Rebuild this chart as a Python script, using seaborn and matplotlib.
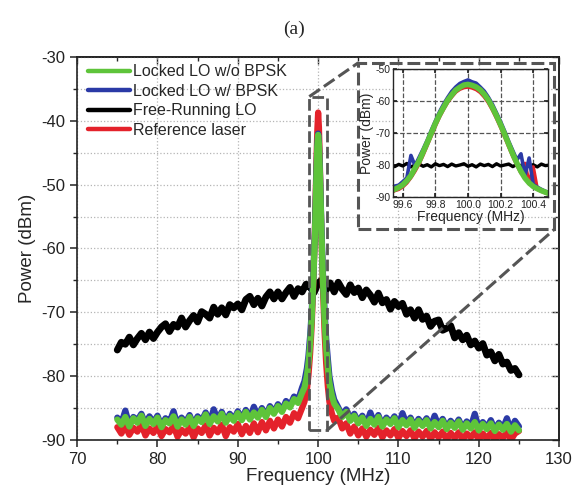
import matplotlib; matplotlib.use('Agg')
import numpy as np
import seaborn as sns
import matplotlib.pyplot as plt
from matplotlib.ticker import MultipleLocator
from matplotlib.patches import Rectangle

# ---- main spectrum: free-running LO (75-125 MHz, 0.5 MHz steps)
freq_free = [75.0, 75.5, 76.0, 76.5, 77.0, 77.5, 78.0, 78.5, 79.0, 79.5,
             80.0, 80.5, 81.0, 81.5, 82.0, 82.5, 83.0, 83.5, 84.0, 84.5,
             85.0, 85.5, 86.0, 86.5, 87.0, 87.5, 88.0, 88.5, 89.0, 89.5,
             90.0, 90.5, 91.0, 91.5, 92.0, 92.5, 93.0, 93.5, 94.0, 94.5,
             95.0, 95.5, 96.0, 96.5, 97.0, 97.5, 98.0, 98.5, 99.0, 99.5,
             100.0, 100.5, 101.0, 101.5, 102.0, 102.5, 103.0, 103.5, 104.0, 104.5,
             105.0, 105.5, 106.0, 106.5, 107.0, 107.5, 108.0, 108.5, 109.0, 109.5,
             110.0, 110.5, 111.0, 111.5, 112.0, 112.5, 113.0, 113.5, 114.0, 114.5,
             115.0, 115.5, 116.0, 116.5, 117.0, 117.5, 118.0, 118.5, 119.0, 119.5,
             120.0, 120.5, 121.0, 121.5, 122.0, 122.5, 123.0, 123.5, 124.0, 124.5,
             125.0]
free_lo = [-75.9, -74.7, -75.0, -73.9, -75.1, -74.1, -73.3, -74.3, -73.1, -74.1,
           -73.1, -72.3, -71.8, -73.0, -71.9, -72.3, -70.9, -72.3, -71.3, -70.5,
           -71.5, -69.9, -70.3, -70.9, -69.2, -70.3, -69.3, -70.4, -68.8, -69.3,
           -68.7, -69.6, -68.0, -67.5, -68.8, -67.8, -69.0, -67.6, -66.8, -67.9,
           -66.8, -67.9, -66.9, -66.1, -67.5, -66.3, -66.8, -65.6, -66.1, -66.9,
           -65.4, -64.9, -66.5, -65.4, -66.8, -65.3, -66.4, -67.2, -65.7, -66.9,
           -66.2, -67.7, -66.5, -67.3, -68.4, -67.0, -68.5, -68.0, -69.5, -68.3,
           -69.1, -68.6, -70.3, -69.6, -70.9, -69.6, -71.1, -70.6, -72.2, -71.4,
           -71.2, -72.8, -72.5, -72.1, -74.0, -73.2, -74.3, -73.6, -75.1, -74.5,
           -75.6, -74.9, -76.7, -76.2, -77.6, -76.6, -78.1, -77.8, -79.1, -78.8,
           -79.8]

# ---- main spectrum: locked LO and reference laser (denser near 100 MHz)
freq_lock = [75.0, 75.5, 76.0, 76.5, 77.0, 77.5, 78.0, 78.5, 79.0, 79.5,
             80.0, 80.5, 81.0, 81.5, 82.0, 82.5, 83.0, 83.5, 84.0, 84.5,
             85.0, 85.5, 86.0, 86.5, 87.0, 87.5, 88.0, 88.5, 89.0, 89.5,
             90.0, 90.5, 91.0, 91.5, 92.0, 92.5, 93.0, 93.5, 94.0, 94.5,
             95.0, 95.5, 96.0, 96.5, 97.0, 97.5,
             98.0, 98.3, 98.6, 98.8, 99.0, 99.2, 99.4, 99.6, 99.7, 99.8, 99.9,
             100.0, 100.1, 100.2, 100.3, 100.4, 100.6, 100.8, 101.0, 101.2, 101.4,
             101.7, 102.0,
             102.5, 103.0, 103.5, 104.0, 104.5, 105.0, 105.5, 106.0, 106.5, 107.0,
             107.5, 108.0, 108.5, 109.0, 109.5, 110.0, 110.5, 111.0, 111.5, 112.0,
             112.5, 113.0, 113.5, 114.0, 114.5, 115.0, 115.5, 116.0, 116.5, 117.0,
             117.5, 118.0, 118.5, 119.0, 119.5, 120.0, 120.5, 121.0, 121.5, 122.0,
             122.5, 123.0, 123.5, 124.0, 124.5, 125.0]
locked_no_bpsk = [-86.8, -87.6, -86.4, -87.9, -86.6, -87.3, -86.2, -87.8, -86.7, -87.5,
                  -86.5, -88.0, -86.9, -87.4, -86.3, -87.9, -86.8, -87.6, -86.4, -87.8,
                  -86.6, -87.2, -86.0, -87.5, -86.3, -87.1, -85.9, -87.3, -86.2, -87.0,
                  -85.8, -86.9, -85.6, -86.8, -85.7, -86.5, -85.3, -86.4, -85.0, -85.9,
                  -84.7, -85.6, -84.3, -84.9, -83.6, -84.2,
                  -82.6, -81.8, -80.0, -78.0, -75.0, -71.0, -65.0, -58.0, -53.0, -48.0, -44.0,
                  -42.2, -43.8, -47.5, -52.0, -57.0, -65.0, -71.0, -75.5, -78.5, -81.0,
                  -83.0, -84.3,
                  -85.2, -86.4, -85.6, -87.0, -86.2, -87.4, -86.5, -87.8, -86.7, -87.6,
                  -86.4, -87.9, -86.8, -87.5, -86.6, -88.0, -86.9, -87.7, -86.8, -88.1,
                  -87.0, -87.8, -86.9, -88.2, -87.2, -88.0, -87.0, -88.3, -87.3, -88.1,
                  -87.1, -88.4, -87.4, -88.2, -87.2, -88.5, -87.5, -88.3, -87.4, -88.6,
                  -87.6, -88.4, -87.5, -88.7, -87.7, -88.5]
locked_bpsk = [-86.5, -87.4, -85.4, -87.7, -86.4, -86.9, -85.9, -87.6, -86.3, -87.3,
               -86.2, -87.8, -86.6, -87.2, -85.5, -87.7, -86.5, -87.3, -86.1, -87.6,
               -86.3, -87.0, -85.7, -87.3, -85.2, -86.9, -85.6, -87.1, -85.9, -86.8,
               -85.5, -86.7, -85.3, -86.6, -84.8, -86.3, -85.0, -86.2, -84.7, -85.7,
               -84.4, -85.4, -83.9, -84.6, -83.2, -83.8,
               -81.8, -80.8, -78.8, -76.8, -73.8, -70.0, -64.2, -57.4, -52.6, -47.6, -43.8,
               -42.0, -43.5, -47.0, -51.4, -56.3, -64.0, -69.8, -74.2, -77.2, -80.0,
               -82.2, -83.7,
               -84.9, -86.2, -85.2, -86.8, -85.9, -87.2, -86.2, -87.6, -85.7, -87.4,
               -86.1, -87.7, -86.5, -87.3, -86.3, -87.8, -85.8, -87.5, -86.5, -87.9,
               -86.7, -87.6, -86.6, -88.0, -86.2, -87.8, -86.7, -88.1, -87.0, -87.9,
               -86.8, -88.2, -87.1, -88.0, -85.9, -88.3, -87.2, -88.1, -86.9, -88.4,
               -87.3, -88.2, -86.6, -88.5, -87.0, -87.9]
ref_laser = [-88.0, -89.0, -87.8, -89.2, -88.1, -88.7, -87.6, -89.3, -88.2, -88.9,
             -87.9, -89.4, -88.3, -88.8, -87.8, -89.5, -88.4, -89.0, -88.0, -89.6,
             -88.2, -88.9, -87.7, -89.3, -88.1, -88.8, -87.6, -89.4, -88.0, -88.7,
             -87.5, -89.1, -87.8, -88.9, -87.4, -88.8, -87.2, -88.5, -87.0, -88.2,
             -86.8, -87.9, -86.4, -87.3, -85.8, -86.6,
             -85.0, -84.0, -82.2, -79.8, -76.5, -72.0, -65.5, -57.0, -51.5, -46.0, -41.5,
             -38.7, -41.0, -46.0, -51.5, -57.5, -66.0, -73.0, -78.0, -81.5, -84.0,
             -85.8, -87.0,
             -86.5, -88.2, -87.4, -89.0, -87.9, -89.3, -88.2, -89.5, -88.4, -89.2,
             -88.1, -89.6, -88.5, -89.3, -88.3, -89.7, -88.6, -89.4, -88.5, -89.8,
             -88.7, -89.5, -88.6, -89.9, -88.8, -89.6, -88.7, -90.0, -88.9, -89.7,
             -88.8, -90.0, -89.0, -89.6, -88.8, -90.0, -89.0, -89.8, -88.9, -90.0,
             -89.1, -89.7, -88.8, -90.0, -89.0, -88.6]

# ---- inset: zoom around 100 MHz
freq_zoom = [99.500, 99.525, 99.550, 99.575, 99.600, 99.625, 99.650, 99.675, 99.700, 99.725,
             99.750, 99.775, 99.800, 99.825, 99.850, 99.875, 99.900, 99.925, 99.950, 99.975,
             100.000, 100.025, 100.050, 100.075, 100.100, 100.125, 100.150, 100.175, 100.200, 100.225,
             100.250, 100.275, 100.300, 100.325, 100.350, 100.375, 100.400, 100.425, 100.450, 100.475,
             100.500]
zoom_no_bpsk = [-88.6, -88.0, -87.6, -87.0, -86.2, -84.9, -83.3, -81.0, -78.8, -75.9,
                -73.0, -70.0, -67.0, -64.3, -62.0, -59.8, -58.1, -56.6, -55.7, -55.0,
                -54.8, -55.1, -55.6, -56.5, -57.9, -59.7, -62.0, -64.6, -67.4, -70.4,
                -73.5, -76.6, -79.4, -82.0, -84.1, -85.6, -86.7, -87.4, -88.0, -88.5,
                -89.0]
zoom_bpsk = [-87.8, -87.4, -86.6, -86.3, -85.2, -84.0, -77.0, -80.2, -77.6, -75.0,
             -72.2, -69.1, -66.2, -63.4, -61.0, -58.9, -57.0, -55.6, -54.5, -53.9,
             -53.4, -54.0, -54.4, -55.6, -56.9, -58.8, -61.0, -63.7, -66.4, -69.4,
             -72.6, -75.5, -78.4, -76.5, -83.3, -77.8, -86.0, -86.9, -87.6, -88.2,
             -88.7]
zoom_free = [-80.2, -79.6, -80.5, -79.8, -80.3, -79.5, -80.6, -80.0, -79.7, -80.4,
             -79.9, -80.6, -79.6, -80.2, -79.8, -80.5, -79.7, -80.3, -80.0, -79.6,
             -80.4, -79.9, -80.6, -79.7, -80.2, -79.8, -80.5, -79.6, -80.3, -80.0,
             -79.7, -80.5, -79.8, -80.2, -79.6, -80.4, -79.9, -80.6, -79.7, -80.2,
             -80.0]
zoom_ref = [-88.9, -88.7, -88.0, -87.6, -86.8, -85.6, -83.9, -81.9, -79.6, -76.8,
            -73.8, -70.8, -67.8, -65.0, -62.6, -60.4, -58.7, -57.2, -56.3, -55.8,
            -55.6, -55.9, -56.4, -57.3, -58.7, -60.5, -62.8, -65.4, -68.2, -71.2,
            -74.3, -77.3, -80.0, -82.5, -79.5, -85.9, -80.6, -87.6, -88.2, -88.7,
            -89.1]

labels = ['Locked LO w/o BPSK', 'Locked LO w/ BPSK', 'Free-Running LO', 'Reference laser']
GREEN, BLUE, BLACK, RED = '#5ec43a', '#2b3aa6', '#000000', '#e4222b'
FRAME = '#555555'

sns.set_theme(style='ticks')
plt.rcParams['font.family'] = ['Liberation Sans', 'DejaVu Sans']
plt.rcParams['axes.unicode_minus'] = False

fig = plt.figure(figsize=(5.8, 4.96), dpi=100)
ax = fig.add_axes([0.133, 0.113, 0.831, 0.772])

h_free = sns.lineplot(x=freq_free, y=free_lo, ax=ax, color=BLACK, lw=5.0,
                      sort=False, estimator=None).lines[-1]
h_ref = sns.lineplot(x=freq_lock, y=ref_laser, ax=ax, color=RED, lw=4.5,
                     sort=False, estimator=None).lines[-1]
h_bpsk = sns.lineplot(x=freq_lock, y=locked_bpsk, ax=ax, color=BLUE, lw=4.5,
                      sort=False, estimator=None).lines[-1]
h_nob = sns.lineplot(x=freq_lock, y=locked_no_bpsk, ax=ax, color=GREEN, lw=4.5,
                     sort=False, estimator=None).lines[-1]

ax.set_xlim(70, 130)
ax.set_ylim(-90, -30)
ax.xaxis.set_major_locator(MultipleLocator(10))
ax.xaxis.set_minor_locator(MultipleLocator(5))
ax.yaxis.set_major_locator(MultipleLocator(10))
ax.yaxis.set_minor_locator(MultipleLocator(5))
ax.grid(True, axis='x', which='major', color='#b5b5b5', ls=':', lw=0.9)
ax.grid(True, axis='y', which='both', color='#b5b5b5', ls=':', lw=0.9)
ax.tick_params(which='major', direction='out', length=5, width=1.1, labelsize=12, colors='#222222')
ax.tick_params(which='minor', direction='out', length=3, width=1.0)
for s in ax.spines.values():
    s.set_linewidth(1.2)
    s.set_color('#222222')
ax.set_xlabel('Frequency (MHz)', fontsize=13.5, labelpad=1)
ax.set_ylabel('Power (dBm)', fontsize=13.5, labelpad=4)

# inward ticks on the top and right edges
top = ax.secondary_xaxis('top')
top.xaxis.set_major_locator(MultipleLocator(10))
top.xaxis.set_minor_locator(MultipleLocator(5))
top.tick_params(which='both', direction='in', labeltop=False, width=1.0)
top.tick_params(which='major', length=5)
top.tick_params(which='minor', length=3)
right = ax.secondary_yaxis('right')
right.yaxis.set_major_locator(MultipleLocator(10))
right.yaxis.set_minor_locator(MultipleLocator(5))
right.tick_params(which='both', direction='in', labelright=False, width=1.0)
right.tick_params(which='major', length=5)
right.tick_params(which='minor', length=3)

ax.legend([h_nob, h_bpsk, h_free, h_ref], labels, loc='upper left',
          bbox_to_anchor=(0.0, 1.01), frameon=False, fontsize=11.5,
          handlelength=2.6, handletextpad=0.2, labelspacing=0.28,
          borderaxespad=0.3)
for line in ax.get_legend().get_lines():
    line.set_linewidth(3.2)

# dashed zoom markers
dash = (0, (4.2, 1.6))
box_lo = (98.9, -88.5, 101.1, -36.2)
frame = (105.0, -57.0, 129.4, -30.9)
ax.add_patch(Rectangle((box_lo[0], box_lo[1]), box_lo[2] - box_lo[0], box_lo[3] - box_lo[1],
                       fill=False, ec=FRAME, lw=2.0, ls=dash, zorder=5))
ax.add_patch(Rectangle((frame[0], frame[1]), frame[2] - frame[0], frame[3] - frame[1],
                       fill=False, ec=FRAME, lw=2.2, ls=dash, zorder=5, clip_on=False))
ax.plot([box_lo[0], frame[0]], [box_lo[3], frame[3]], color=FRAME, lw=2.2, ls=dash, zorder=5)
ax.plot([box_lo[2], frame[2]], [box_lo[1], frame[1]], color=FRAME, lw=2.2, ls=dash, zorder=5)

# inset
axin = fig.add_axes([0.6776, 0.6028, 0.267, 0.258])
sns.lineplot(x=freq_zoom, y=zoom_free, ax=axin, color=BLACK, lw=2.4, sort=False, estimator=None)
sns.lineplot(x=freq_zoom, y=zoom_ref, ax=axin, color=RED, lw=2.6, sort=False, estimator=None)
sns.lineplot(x=freq_zoom, y=zoom_bpsk, ax=axin, color=BLUE, lw=2.6, sort=False, estimator=None)
sns.lineplot(x=freq_zoom, y=zoom_no_bpsk, ax=axin, color=GREEN, lw=4.0, sort=False, estimator=None)
axin.set_xlim(99.54, 100.49)
axin.set_ylim(-90, -50)
axin.set_xticks([99.6, 99.8, 100.0, 100.2, 100.4])
axin.set_xticklabels(['99.6', '99.8', '100.0', '100.2', '100.4'])
axin.set_yticks([-90, -80, -70, -60, -50])
axin.grid(True, color='#555555', ls='--', lw=0.9)
axin.tick_params(direction='in', length=3, labelsize=7.5, pad=2, top=True, right=True, colors='#222222')
for s in axin.spines.values():
    s.set_linewidth(1.0)
axin.set_xlabel('Frequency (MHz)', fontsize=10, labelpad=0)
axin.set_ylabel('Power (dBm)', fontsize=10, labelpad=1)

fig.text(0.507, 0.94, '(a)', ha='center', va='center', fontsize=14,
         family=['Liberation Serif', 'DejaVu Serif'])

fig.savefig('out.png', dpi=100)
